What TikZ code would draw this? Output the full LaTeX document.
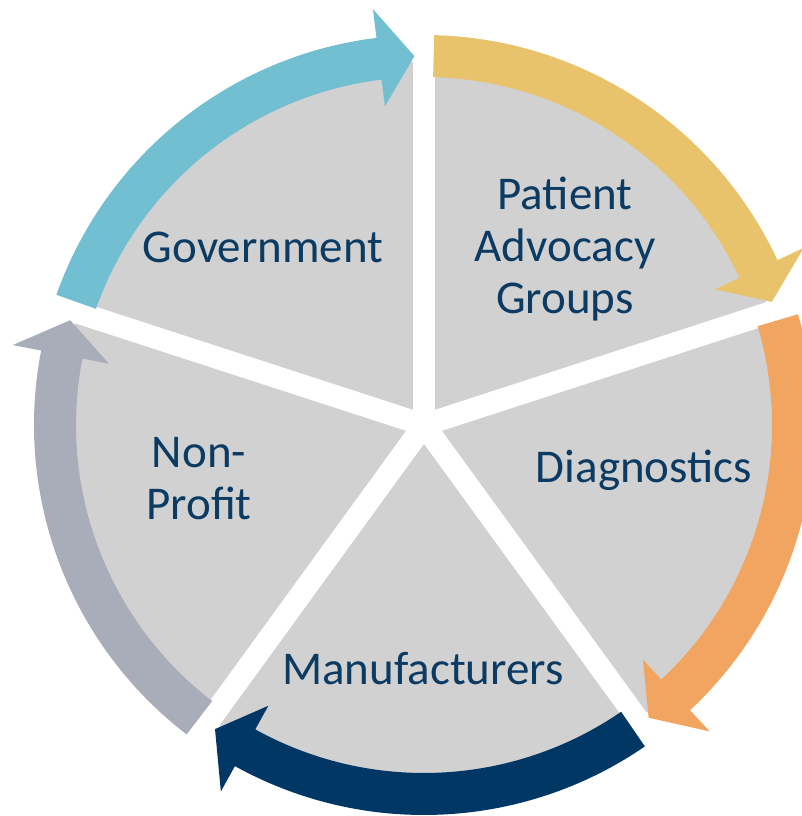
\documentclass[tikz,border=0pt]{standalone}
\usepackage{fontspec}
\setmainfont{Carlito}
\usepackage{tikz}
\usetikzlibrary{positioning}
\definecolor{sliceGray}{HTML}{D1D1D1}
\definecolor{govCyan}{HTML}{72BFD1}
\definecolor{advGold}{HTML}{E8C36B}
\definecolor{diaOrange}{HTML}{F2A461}
\definecolor{manNavy}{HTML}{003764}
\definecolor{npSlate}{HTML}{A9ADB9}
\definecolor{labelBlue}{HTML}{0B3B63}

\begin{document}
\begin{tikzpicture}[x=1pt,y=1pt,
  slice/.style={fill=sliceGray},
  lbl/.style={text=labelBlue,font=\fontsize{47}{52}\selectfont,align=center}]
\useasboundingbox (0,0) rectangle (802,816);
\coordinate (c) at (424,391);
\begin{scope}[shift={(c)}]
\foreach \lo in {90,18,-54,-126,162}
  \fill[slice] ({\lo+36}:19) -- ++(\lo:348) arc[start angle=\lo, end angle=\lo+72, radius=348] -- cycle;
\foreach \lo/\col in {90/govCyan,18/advGold,-54/diaOrange,-126/manNavy,162/npSlate}{
  \pgfmathsetmacro\st{\lo+70.5}
  \pgfmathsetmacro\tp{\lo+1.5}
  \pgfmathsetmacro\hb{\lo+7}
  \fill[\col] (\st:390) arc[start angle=\st, end angle=\hb, radius=390] -- (\hb:419) -- (\tp:369)
    -- (\hb:321) -- (\hb:348) arc[start angle=\hb, end angle=\st, radius=348] -- cycle;
}
\end{scope}
\node[lbl,anchor=base] (gov) at (263,553) {Government};
\node[lbl] (pag) at (565,567) {Patient\\Advocacy\\Groups};
\node[lbl,anchor=base] (diag) at (644,333) {Diagnostics};
\node[lbl,anchor=base] (manu) at (423,131) {Manufacturers};
\node[lbl] (np) at (199,337) {Non-\\Profit};
\end{tikzpicture}
\end{document}
